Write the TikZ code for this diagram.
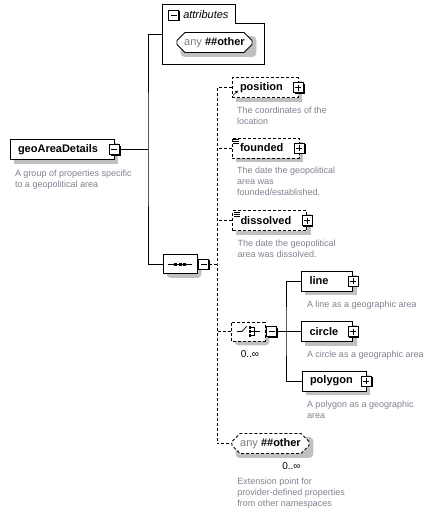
\documentclass[tikz,border=0pt]{standalone}
\usepackage{fontspec}
\setmainfont{Liberation Sans}
\usetikzlibrary{positioning, shapes.misc, arrows.meta, calc}
\pgfdeclarelayer{bg}
\pgfsetlayers{bg,main}

\definecolor{descgray}{RGB}{130,130,145}
\definecolor{anygray}{RGB}{125,125,125}
\definecolor{shadegray}{RGB}{192,192,192}

\begin{document}
\begin{tikzpicture}[x=1pt, y=-1pt, line width=0.8pt,
    elem/.style={rectangle, draw, fill=white, minimum height=20pt, inner xsep=8pt, inner ysep=0pt, text width=#1, align=left, font=\fontsize{11}{13}\selectfont\bfseries},
    optelem/.style={elem=#1, dash pattern=on 3pt off 2pt},
    anybox/.style={chamfered rectangle, chamfered rectangle sep=4pt, draw, fill=white, minimum width=#1, minimum height=20pt, inner sep=0pt, font=\fontsize{11}{13}\selectfont},
    compbox/.style={chamfered rectangle, chamfered rectangle sep=4pt, draw, fill=white, minimum width=34pt, minimum height=19pt, inner sep=0pt},
    pmbox/.style={rectangle, draw, fill=white, minimum size=10pt, inner sep=0pt, line width=0.7pt,
        append after command={\pgfextra{\draw[line width=1pt] ([shift={(0.5pt,-1.5pt)}]\tikzlastnode.north east) -- ([shift={(0.5pt,-0.5pt)}]\tikzlastnode.south east) -- ([shift={(1.5pt,-0.5pt)}]\tikzlastnode.south west);}}},
    plusbox/.style={pmbox, path picture={
        \draw[line width=0.7pt] ([xshift=2pt]path picture bounding box.west) -- ([xshift=-2pt]path picture bounding box.east)
            ([yshift=-2pt]path picture bounding box.north) -- ([yshift=2pt]path picture bounding box.south);}},
    minusbox/.style={pmbox, path picture={
        \draw[line width=0.7pt] ([xshift=2pt]path picture bounding box.west) -- ([xshift=-2pt]path picture bounding box.east);}},
    desc/.style={inner sep=0pt, align=left, text=descgray, font=\fontsize{9}{10.7}\selectfont},
    mult/.style={inner sep=0pt, font=\fontsize{10}{12}\selectfont},
    optconn/.style={dash pattern=on 3pt off 2pt}
]
\path[use as bounding box] (0,0) rectangle (434,514);

% group element
\node[elem=88pt] (geo) at (62,149.5) {geoAreaDetails};
\node[minusbox] (geopm) at (geo.east) {};
\node[desc, below right=9.5pt and 5pt of geo.south west] (geodesc) {A group of properties specific\\to a geopolitical area};

% attributes
\node[minimum width=101pt, minimum height=59pt, inner sep=0pt] (attr) at (213.5,34.5) {};
\draw (attr.north west) -- ++(73,0) -- ++(0,19) -| (attr.south east) -- (attr.south west) -- cycle;
\node[minusbox] (attrpm) at (173.5,15) {};
\node[right=4pt of attrpm, inner sep=0pt, font=\fontsize{11}{13}\selectfont\itshape] (attrlbl) {attributes};
\node[anybox=75pt] (anyt) at (214.5,42.5) {\textcolor{anygray}{any} \textbf{\#\#other}};

% sequence
\node[compbox] (seq) at (180,264) {};
\begin{scope}[shift={(seq.center)}]
  \draw (-12,0) -- (12,0);
  \foreach \d in {-4.5,0,4.5} \fill (\d-1.5,-1.5) rectangle (\d+1.5,1.5);
\end{scope}
\node[minusbox, right=1pt of seq] (seqpm) {};

% optional elements
\node[optelem=50pt] (pos) at (265,87.5) {position};
\node[plusbox] (pospm) at (pos.east) {};
\draw[-{Latex[length=3pt,width=3pt]}, line width=0.7pt] ([shift={(1.5pt,2.5pt)}]pos.south west) -- ++(5,-5);
\node[desc, below right=8.5pt and 5pt of pos.south west] (posdesc) {The coordinates of the\\location};

\node[optelem=51pt] (found) at (265.5,148) {founded};
\node[plusbox] (foundpm) at (found.east) {};
\foreach \k in {2,4,6} \draw[line width=0.6pt] ([shift={(1.5,\k)}]found.north west) -- ++(6,0);
\node[desc, below right=8.5pt and 5pt of found.south west] (founddesc) {The date the geopolitical\\area was\\founded/established.};

\node[optelem=58pt] (dis) at (269.5,220.5) {dissolved};
\node[plusbox] (dispm) at (dis.east) {};
\foreach \k in {2,4,6} \draw[line width=0.6pt] ([shift={(1.5,\k)}]dis.north west) -- ++(6,0);
\node[desc, below right=8.5pt and 5pt of dis.south west] (disdesc) {The date the geopolitical\\area was dissolved.};

% choice
\node[compbox, dash pattern=on 3pt off 2pt] (choice) at (248,331.5) {};
\begin{scope}[shift={(choice.center)}, line width=0.7pt]
  \draw (-11,0) -- (-6,0) -- (-1,-5.5);
  \foreach \d in {-4,0,4} \fill (0.5,\d-1.2) rectangle (3,\d+1.2);
  \draw (3,-4) -- (6,-4) -- (6,4) -- (3,4) (3,0) -- (12,0);
\end{scope}
\node[minusbox, right=1pt of choice] (choicepm) {};
\node[mult] (choicemult) at (250,354.5) {0..∞};

\node[elem=35pt] (line) at (327,281) {line};
\node[plusbox] (linepm) at (line.east) {};
\node[desc, below right=9pt and 5.5pt of line.south west] (linedesc) {A line as a geographic area};

\node[elem=35pt] (circ) at (327,331.5) {circle};
\node[plusbox] (circpm) at (circ.east) {};
\node[desc, below right=9pt and 5.5pt of circ.south west] (circdesc) {A circle as a geographic area};

\node[elem=48pt] (poly) at (334,381) {polygon};
\node[plusbox] (polypm) at (poly.east) {};
\node[desc, below right=9pt and 5pt of poly.south west] (polydesc) {A polygon as a geographic\\area};

% wildcard
\node[anybox=77pt, dash pattern=on 3pt off 2pt] (anyb) at (270.5,443.5) {\textcolor{anygray}{any} \textbf{\#\#other}};
\node[mult] (anybmult) at (291.5,466) {0..∞};
\node[desc, anchor=north west] (anybdesc) at (237,478) {Extension point for\\provider-defined properties\\from other namespaces};

% connectors
\coordinate (trunk) at (148,149.5);
\draw (geopm) -- (trunk);
\draw (attr.west) -| (trunk) |- (seq.west);

\coordinate (dtrunk) at (217,264);
\draw[optconn] (seqpm) -- (dtrunk);
\draw[optconn] (pos.west) -| (dtrunk) |- (anyb.west);
\draw[optconn] (found.west) -- (found.west -| dtrunk);
\draw[optconn] (dis.west) -- (dis.west -| dtrunk);
\draw[optconn] (choice.west) -- (choice.west -| dtrunk);

\coordinate (ctrunk) at (286,331.5);
\draw (line.west) -| (ctrunk) |- (poly.west);
\draw (choicepm) -- (circ.west);

% shadows
\begin{pgfonlayer}{bg}
  \fill[white] (0,0) rectangle (434,514);
  \foreach \n in {geo,pos,found,dis,line,circ,poly}
    \fill[shadegray] ($(\n.south west)+(4,4)$) rectangle ($(\n.north east)+(4,4)$);
  \foreach \n in {seq,choice,anyt,anyb}
    \fill[shadegray, rounded corners=4pt] ($(\n.west |- \n.north)+(4,4)$) rectangle ($(\n.east |- \n.south)+(4,4)$);
\end{pgfonlayer}
\end{tikzpicture}
\end{document}
